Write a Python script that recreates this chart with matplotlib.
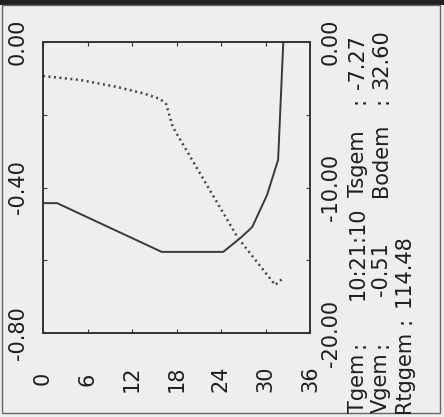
import matplotlib
matplotlib.use("Agg")
import matplotlib.pyplot as plt
from matplotlib.patches import Rectangle

plt.rcParams['font.family'] = ['DejaVu Sans']

# depth axis (0..36) and the two profiles
depth_ticks = [0, 6, 12, 18, 24, 30, 36]

# solid: velocity (left axis)
vel_depth = [0.0, 1.9, 16.0, 24.3, 26.6, 28.2, 30.2, 31.7, 32.4]
vel_value = [-0.443, -0.443, -0.577, -0.577, -0.539, -0.509, -0.421, -0.324, 0.0]

# dotted: temperature (right axis)
temp_depth = [0.0, 5.0, 10.0, 13.8, 15.8, 16.6, 17.5, 26.2, 31.3, 32.4]
temp_value = [-2.34, -2.61, -3.09, -3.57, -3.92, -4.26, -5.84, -13.40, -16.70, -16.22]

left_ticks = [0.0, -0.2, -0.4, -0.6, -0.8]
left_labels = ['0.00', '', '-0.40', '', '-0.80']
right_ticks = [0.0, -5.0, -10.0, -15.0, -20.0]
right_labels = ['0.00', '', '-10.00', '', '-20.00']

# summary block: (text, line, y in px, anchor)
summary = [
    ('Tgem', 0, 413, 'bottom'), (':', 0, 344, 'center'), ('10:21:10', 0, 300, 'bottom'),
    ('Tsgem', 0, 197, 'bottom'), (':', 0, 101, 'center'), ('-7.27', 0, 89, 'bottom'),
    ('Vgem', 1, 413, 'bottom'), (':', 1, 344, 'center'), ('-0.51', 1, 296, 'bottom'),
    ('Bodem', 1, 197, 'bottom'), (':', 1, 101, 'center'), ('32.60', 1, 89, 'bottom'),
    ('Rtggem', 2, 413, 'bottom'), (':', 2, 320, 'center'), ('114.48', 2, 307, 'bottom'),
]
line_x = [358, 381, 404]

W, H = 444, 417
bg = '#eeeeee'
ink = '#333333'
txt_col = '#1e1e1e'

fig = plt.figure(figsize=(W / 100, H / 100), dpi=100, facecolor=bg)

# frame of the scanned page
fig.patches.append(Rectangle((0, 1 - 5 / H), 1, 5 / H, transform=fig.transFigure,
                             facecolor='#222222', edgecolor='none'))
fig.patches.append(Rectangle((2 / W, 1 - 413 / H), 438 / W, 408 / H, transform=fig.transFigure,
                             facecolor='none', edgecolor='#666666', lw=1.0))

ax = fig.add_axes([43 / W, 1 - 333 / H, 267 / W, 291 / H])
ax.set_facecolor(bg)
ax2 = ax.twinx()

ax.plot(vel_depth, vel_value, color='#3a3a3a', lw=1.4)
ax2.plot(temp_depth, temp_value, color='#444444', lw=1.8, linestyle=(0, (0.8, 1.4)))

ax.set_xlim(0, 36)
ax.set_ylim(-0.8, 0)
ax2.set_ylim(-20, 0)

ax.set_xticks(depth_ticks)
ax.set_xticklabels([str(d) for d in depth_ticks], rotation=90, va='center', ha='center')
ax.set_yticks(left_ticks)
ax.set_yticklabels(left_labels, rotation=90, va='center', ha='center')
ax2.set_yticks(right_ticks)
ax2.set_yticklabels(right_labels, rotation=90, va='center', ha='center')

ax.tick_params(axis='x', direction='in', length=3, color=ink, top=True,
               labelsize=15, labelcolor=txt_col, pad=33)
ax.tick_params(axis='y', direction='in', length=3, color=ink,
               labelsize=15, labelcolor=txt_col, pad=18)
ax2.tick_params(axis='y', direction='in', length=3, color=ink,
                labelsize=15, labelcolor=txt_col, pad=15)

for a in (ax, ax2):
    for s in a.spines.values():
        s.set_color(ink)
        s.set_linewidth(1.2)

for txt, line, y0, anchor in summary:
    fig.text(line_x[line] / W, 1 - y0 / H, txt, rotation=90, ha='center', va=anchor,
             fontsize=15, color=txt_col)

fig.savefig('out.png', dpi=100, facecolor=bg)
